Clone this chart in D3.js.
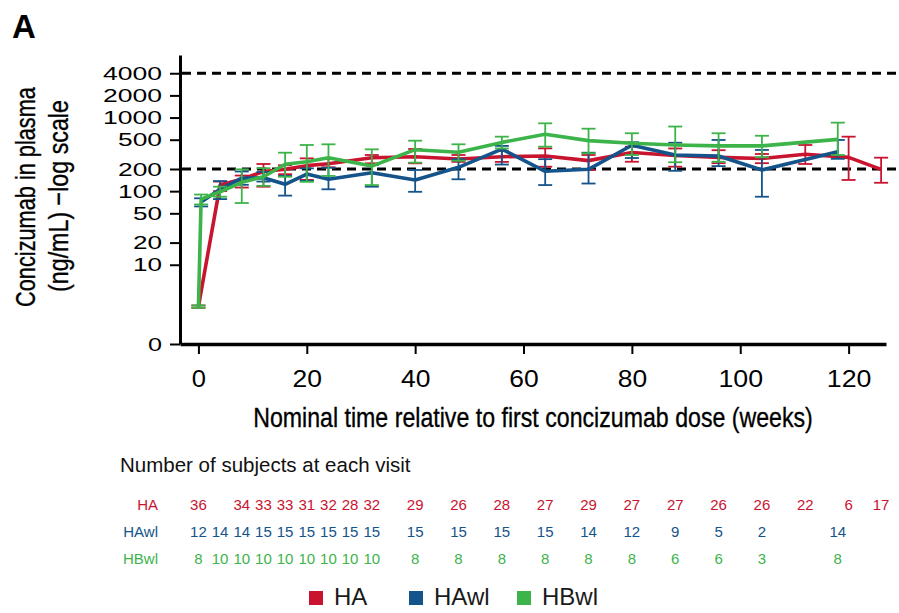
<!DOCTYPE html>
<html>
<head>
<meta charset="utf-8">
<script src="https://cdn.jsdelivr.net/npm/d3@7"></script>
<style>
  body { margin: 0; background: #fff; }
  svg { display: block; font-family: "Liberation Sans", Arial, sans-serif; }
</style>
</head>
<body>
<svg id="chart" width="899" height="613"></svg>
<script>
// ---- Concentration data: geometric mean with lower / upper error limits (ng/mL) ----
const haWeeks  = [0, 4, 8, 12, 16, 20, 24, 32, 40, 48, 56, 64, 72, 80, 88, 96, 104, 112, 120, 126];
const haMean   = [2.7, 121, 145, 185, 198, 222, 236, 285, 294, 273, 294, 300, 260, 335, 305, 288, 278, 318, 288, 198];
const haLower  = [2.6, 100, 112, 115, 170, 142, 211, 239, 239, 250, 250, 215, 194, 251, 215, 240, 240, 234, 142, 130];
const haUpper  = [2.8, 135, 163, 234, 225, 279, 273, 310, 374, 310, 350, 381, 310, 402, 380, 360, 320, 424, 550, 285];

const hawlWeeks = [0.5, 4, 8, 12, 16, 20, 24, 32, 40, 48, 56, 64, 72, 80, 88, 96, 104, 118];
const hawlMean  = [71, 106, 150, 152, 124, 171, 145, 178, 142, 211, 372, 186, 198, 420, 310, 300, 194, 344];
const hawlLower = [62, 78, 122, 135, 87, 138, 106, 115, 98, 145, 230, 121, 127, 282, 189, 219, 84, 275];
const hawlUpper = [80, 137, 185, 182, 161, 204, 208, 227, 194, 272, 412, 272, 333, 462, 455, 496, 363, 496];

const hbwlWeeks = [0, 0.5, 4, 8, 12, 16, 20, 24, 32, 40, 48, 56, 64, 72, 80, 88, 96, 104, 118];
const hbwlMean  = [2.7, 78, 98, 132, 157, 232, 251, 285, 219, 366, 337, 460, 592, 486, 447, 424, 412, 412, 506];
const hbwlLower = [2.6, 66, 84, 69, 118, 157, 134, 161, 121, 244, 259, 380, 402, 327, 310, 247, 251, 289, 310];
const hbwlUpper = [2.8, 90, 115, 198, 205, 333, 424, 433, 370, 485, 433, 550, 835, 706, 612, 755, 612, 566, 853];

// ---- Number of subjects at each visit ----
const haCountWeeks   = [0, 8, 12, 16, 20, 24, 28, 32, 40, 48, 56, 64, 72, 80, 88, 96, 104, 112, 120, 126];
const haCounts       = [36, 34, 33, 33, 31, 32, 28, 32, 29, 26, 28, 27, 29, 27, 27, 26, 26, 22, 6, 17];
const hawlCountWeeks = [0, 4, 8, 12, 16, 20, 24, 28, 32, 40, 48, 56, 64, 72, 80, 88, 96, 104, 118];
const hawlCounts     = [12, 14, 14, 15, 15, 15, 15, 15, 15, 15, 15, 15, 15, 14, 12, 9, 5, 2, 14];
const hbwlCountWeeks = [0, 4, 8, 12, 16, 20, 24, 28, 32, 40, 48, 56, 64, 72, 80, 88, 96, 104, 118];
const hbwlCounts     = [8, 10, 10, 10, 10, 10, 10, 10, 10, 8, 8, 8, 8, 8, 8, 6, 6, 3, 8];

// ---- Axis ticks and reference levels ----
const xTickValues = [0, 20, 40, 60, 80, 100, 120];
const yTickValues = [10, 20, 50, 100, 200, 500, 1000, 2000, 4000];
const referenceLevels = [4000, 200];
const seriesNames = ["HA", "HAwl", "HBwl"];
const seriesColors = ["#c8142f", "#14548a", "#3cb44a"];

const axisFloor = 0.838;   // bottom of the log axis, labelled "0"

const svg = d3.select("#chart");

const x = d3.scaleLinear().domain([-3.4, 126.9]).range([180, 886]);
const y = d3.scaleLog().domain([axisFloor, 7080]).range([344, 55]);

function zip(weeks, mean, lo, hi) {
  return weeks.map((w, i) => ({ w, v: mean[i], lo: lo[i], hi: hi[i] }));
}
const series = [
  { name: seriesNames[0], color: seriesColors[0], pts: zip(haWeeks, haMean, haLower, haUpper) },
  { name: seriesNames[1], color: seriesColors[1], pts: zip(hawlWeeks, hawlMean, hawlLower, hawlUpper) },
  { name: seriesNames[2], color: seriesColors[2], pts: zip(hbwlWeeks, hbwlMean, hbwlLower, hbwlUpper) }
];

// Draws a horizontally condensed label: measured at its natural width,
// then squeezed along its own baseline to the requested width.
function condensedText(parent, cx, cy, angle, size, width, str) {
  const outer = parent.append("g").attr("transform", `translate(${cx},${cy}) rotate(${angle})`);
  const t = outer.append("text").attr("text-anchor", "middle")
    .attr("font-size", size).attr("fill", "#000")
    .attr("stroke", "#000").attr("stroke-width", 0.35)
    .text(str);
  const natural = t.node().getComputedTextLength();
  t.attr("transform", `scale(${width / natural},1)`);
  return t;
}

// Panel letter
svg.append("text").attr("x", 12).attr("y", 38)
  .attr("font-size", 33).attr("font-weight", "bold").attr("fill", "#000").text("A");

// Dashed reference levels
svg.append("g").selectAll("line").data(referenceLevels).join("line")
  .attr("x1", 182).attr("x2", 899)
  .attr("y1", d => y(d)).attr("y2", d => y(d))
  .attr("stroke", "#000").attr("stroke-width", 3).attr("stroke-dasharray", "9,6");

// Y axis
const yAxis = svg.append("g").attr("transform", "translate(180,0)")
  .call(d3.axisLeft(y)
    .tickValues([axisFloor].concat(yTickValues))
    .tickFormat(d => d === axisFloor ? "0" : String(d))
    .tickSize(10).tickSizeOuter(0).tickPadding(8));
yAxis.select(".domain").attr("stroke-width", 3);
yAxis.selectAll(".tick line").attr("stroke-width", 2);
yAxis.selectAll(".tick text")
  .attr("font-size", 19).attr("fill", "#000")
  .attr("font-family", "'Liberation Sans', Arial, sans-serif")
  .attr("textLength", d => (d === axisFloor ? 1 : String(d).length) * 15 - 1)
  .attr("lengthAdjust", "spacingAndGlyphs");

// X axis
const xAxis = svg.append("g").attr("transform", "translate(0,344)")
  .call(d3.axisBottom(x).tickValues(xTickValues)
    .tickSize(10).tickSizeOuter(0).tickPadding(16));
xAxis.select(".domain").attr("stroke-width", 3.5);
xAxis.selectAll(".tick line").attr("stroke-width", 2);
xAxis.selectAll(".tick text")
  .attr("font-size", 23.5).attr("fill", "#000")
  .attr("font-family", "'Liberation Sans', Arial, sans-serif")
  .attr("textLength", d => String(d).length * 15.2 - 1)
  .attr("lengthAdjust", "spacingAndGlyphs");

// Axis titles (condensed)
condensedText(svg, 533, 427, 0, 28.5, 560, "Nominal time relative to first concizumab dose (weeks)");
condensedText(svg, 35, 197, -90, 28.5, 220, "Concizumab in plasma");
condensedText(svg, 68, 196, -90, 28.5, 192, "(ng/mL) \u2212log scale");

// Series: error bars, then connecting line
const line = d3.line().x(d => x(d.w)).y(d => y(d.v));
const capHalf = 7;
series.forEach(s => {
  const g = svg.append("g");
  const eb = g.selectAll("g.eb").data(s.pts).join("g")
    .attr("stroke", s.color).attr("stroke-width", 1.8).attr("fill", "none");
  eb.append("line").attr("x1", d => x(d.w)).attr("x2", d => x(d.w))
    .attr("y1", d => y(d.lo)).attr("y2", d => y(d.hi));
  eb.append("line").attr("x1", d => x(d.w) - capHalf).attr("x2", d => x(d.w) + capHalf)
    .attr("y1", d => y(d.lo)).attr("y2", d => y(d.lo));
  eb.append("line").attr("x1", d => x(d.w) - capHalf).attr("x2", d => x(d.w) + capHalf)
    .attr("y1", d => y(d.hi)).attr("y2", d => y(d.hi));
  g.append("path").datum(s.pts).attr("d", line)
    .attr("fill", "none").attr("stroke", s.color)
    .attr("stroke-width", 3.6).attr("stroke-linejoin", "round");
});

// Subject count table
svg.append("text").attr("x", 120).attr("y", 472).attr("font-size", 20.5)
  .attr("fill", "#111").text("Number of subjects at each visit");

const tableRows = [
  { name: seriesNames[0], color: seriesColors[0], weeks: haCountWeeks, counts: haCounts, base: 510 },
  { name: seriesNames[1], color: seriesColors[1], weeks: hawlCountWeeks, counts: hawlCounts, base: 537 },
  { name: seriesNames[2], color: seriesColors[2], weeks: hbwlCountWeeks, counts: hbwlCounts, base: 564 }
];
tableRows.forEach(r => {
  const g = svg.append("g").attr("fill", r.color).attr("font-size", 15);
  g.append("text").attr("x", 158).attr("y", r.base).attr("text-anchor", "end").text(r.name);
  g.selectAll("text.n").data(r.counts).join("text").attr("class", "n")
    .attr("x", (d, i) => x(r.weeks[i])).attr("y", r.base)
    .attr("text-anchor", "middle").text(d => d);
});

// Legend
const legendX = [309, 409, 517];
const lg = svg.append("g");
seriesNames.forEach((n, i) => {
  lg.append("rect").attr("x", legendX[i]).attr("y", 591).attr("width", 14).attr("height", 14)
    .attr("fill", seriesColors[i]);
  lg.append("text").attr("x", legendX[i] + 25).attr("y", 605).attr("font-size", 24)
    .attr("fill", "#1a1a1a").text(n);
});
</script>
</body>
</html>
